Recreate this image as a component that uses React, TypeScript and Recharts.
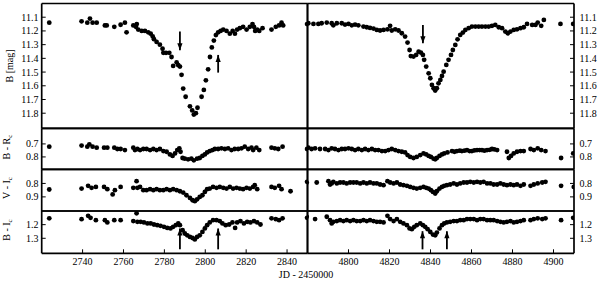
import React from "react";
import { ScatterChart, Scatter, XAxis, YAxis, ReferenceLine } from "recharts";

type Pt = [number, number];
type Arrow = [number, number, number]; // day, tail value, tip value

const leftDomain = [2720, 2850];
const rightDomain = [4780, 4910];
const leftTicks = [2740, 2760, 2780, 2800, 2820, 2840];
const rightTicks = [4800, 4820, 4840, 4860, 4880, 4900];

const bDomain = [11.0, 11.91];
const bTicks = [11.1, 11.2, 11.3, 11.4, 11.5, 11.6, 11.7, 11.8];
const brDomain = [0.58, 0.895];
const brTicks = [0.7, 0.8];
const viDomain = [0.695, 1.005];
const viTicks = [0.8, 0.9];
const biDomain = [1.1, 1.41];
const biTicks = [1.2, 1.3];

// B magnitude, first season
const leftB: Pt[] = [
  [2723.7, 11.14], [2739.5, 11.13], [2742.3, 11.14], [2743.6, 11.11], [2744.9, 11.14], [2746.9, 11.14],
  [2750.9, 11.16], [2751.8, 11.16], [2755.5, 11.17], [2758.6, 11.155], [2760.7, 11.14], [2761.5, 11.21],
  [2764.8, 11.16], [2766.1, 11.17], [2766.5, 11.15], [2767.2, 11.19], [2768.9, 11.2], [2770.5, 11.2],
  [2772.1, 11.21], [2773.3, 11.22], [2774.3, 11.24], [2774.9, 11.26], [2776.2, 11.28], [2777.8, 11.3],
  [2779.1, 11.33], [2779.5, 11.36], [2780.8, 11.36], [2782.4, 11.36], [2783.5, 11.39], [2784.3, 11.455],
  [2786.0, 11.43], [2786.8, 11.45], [2787.6, 11.46], [2788.4, 11.52], [2789.2, 11.62], [2790.4, 11.68],
  [2792.5, 11.75], [2793.6, 11.78], [2794.4, 11.81], [2795.4, 11.8], [2796.2, 11.76], [2798.2, 11.68],
  [2799.3, 11.63], [2800.3, 11.56], [2801.4, 11.48], [2802.3, 11.39], [2803.2, 11.32], [2804.2, 11.27],
  [2805.2, 11.23], [2806.3, 11.21], [2807.5, 11.2], [2808.8, 11.19], [2810.4, 11.2], [2812.0, 11.22],
  [2813.4, 11.2], [2814.5, 11.22], [2815.6, 11.19], [2816.9, 11.18], [2818.5, 11.17], [2820.2, 11.19],
  [2821.8, 11.17], [2823.1, 11.15], [2823.8, 11.17], [2824.4, 11.2], [2825.4, 11.19], [2826.4, 11.2],
  [2828.0, 11.18], [2832.4, 11.19], [2834.5, 11.17], [2836.1, 11.16], [2837.3, 11.14], [2838.1, 11.16],
  [2849.8, 11.15],
];

// B magnitude, second season
const rightB: Pt[] = [
  [4780.4, 11.144], [4782.9, 11.149], [4785.3, 11.149], [4786.9, 11.144], [4789.4, 11.139], [4791.8, 11.144],
  [4792.6, 11.159], [4794.3, 11.144], [4796.7, 11.144], [4798.3, 11.154], [4800.0, 11.149], [4801.6, 11.159],
  [4803.2, 11.154], [4804.8, 11.159], [4807.3, 11.168], [4808.9, 11.173], [4810.5, 11.178], [4812.2, 11.183],
  [4813.8, 11.193], [4815.4, 11.197], [4817.1, 11.193], [4819.0, 11.188], [4820.3, 11.163], [4821.1, 11.197],
  [4822.8, 11.188], [4824.4, 11.197], [4826.0, 11.217], [4827.6, 11.241], [4828.8, 11.285], [4829.8, 11.339],
  [4830.4, 11.383], [4831.7, 11.387], [4833.0, 11.375], [4834.2, 11.351], [4835.3, 11.358], [4836.3, 11.375],
  [4836.9, 11.411], [4837.9, 11.46], [4839.1, 11.509], [4839.9, 11.545], [4840.7, 11.594], [4841.5, 11.618],
  [4842.3, 11.635], [4843.1, 11.618], [4843.9, 11.582], [4844.8, 11.557], [4845.6, 11.528], [4846.4, 11.497],
  [4847.7, 11.448], [4848.8, 11.411], [4850.0, 11.375], [4850.9, 11.339], [4852.1, 11.302], [4853.2, 11.261],
  [4854.5, 11.229], [4855.8, 11.212], [4857.0, 11.193], [4858.6, 11.18], [4860.2, 11.168], [4861.9, 11.168],
  [4863.5, 11.168], [4865.1, 11.168], [4866.8, 11.168], [4868.4, 11.168], [4870.0, 11.163], [4871.6, 11.156],
  [4873.3, 11.173], [4874.9, 11.18], [4876.5, 11.205], [4877.7, 11.217], [4879.0, 11.205], [4880.6, 11.193],
  [4882.2, 11.188], [4883.9, 11.18], [4885.5, 11.173], [4887.1, 11.149], [4889.6, 11.156], [4891.2, 11.156],
  [4892.3, 11.139], [4894.0, 11.163], [4895.3, 11.12], [4903.4, 11.149], [4909.6, 11.149],
];

const leftBR: Pt[] = [
  [2723.7, 0.721], [2739.5, 0.713], [2742.3, 0.721], [2743.3, 0.703], [2744.9, 0.721], [2746.9, 0.729],
  [2750.5, 0.729], [2752.1, 0.729], [2755.5, 0.729], [2757.0, 0.739], [2758.6, 0.739], [2760.7, 0.747],
  [2764.8, 0.729], [2765.6, 0.747], [2766.8, 0.739], [2768.1, 0.747], [2769.7, 0.739], [2771.3, 0.739],
  [2773.0, 0.747], [2774.6, 0.739], [2776.2, 0.747], [2777.8, 0.739], [2779.5, 0.755], [2781.1, 0.76],
  [2782.7, 0.781], [2784.0, 0.792], [2785.2, 0.773], [2786.3, 0.747], [2787.3, 0.734], [2787.9, 0.76],
  [2788.9, 0.808], [2790.0, 0.813], [2791.6, 0.818], [2793.2, 0.813], [2794.4, 0.826], [2796.0, 0.813],
  [2797.3, 0.808], [2798.6, 0.792], [2799.8, 0.781], [2800.9, 0.765], [2802.2, 0.755], [2803.5, 0.747],
  [2804.7, 0.739], [2806.3, 0.739], [2807.9, 0.734], [2809.6, 0.739], [2811.2, 0.734], [2812.8, 0.747],
  [2814.4, 0.739], [2816.1, 0.739], [2817.7, 0.734], [2819.3, 0.721], [2821.0, 0.739], [2822.6, 0.729],
  [2823.4, 0.747], [2825.0, 0.729], [2826.4, 0.747], [2832.4, 0.729], [2834.0, 0.734], [2835.7, 0.739],
  [2837.8, 0.721], [2849.8, 0.739],
];

const rightBR: Pt[] = [
  [4780.4, 0.729], [4782.0, 0.739], [4783.7, 0.734], [4786.1, 0.739], [4788.6, 0.739], [4790.2, 0.747],
  [4791.8, 0.734], [4793.4, 0.739], [4795.1, 0.747], [4796.7, 0.739], [4798.3, 0.739], [4800.0, 0.734],
  [4801.6, 0.739], [4803.2, 0.747], [4804.8, 0.739], [4806.5, 0.747], [4808.1, 0.739], [4809.7, 0.747],
  [4811.4, 0.739], [4813.0, 0.747], [4814.6, 0.747], [4816.3, 0.755], [4817.9, 0.755], [4819.5, 0.747],
  [4821.1, 0.739], [4822.8, 0.747], [4824.4, 0.755], [4826.0, 0.76], [4827.6, 0.765], [4828.8, 0.786],
  [4830.1, 0.8], [4831.7, 0.808], [4833.3, 0.8], [4835.0, 0.786], [4836.6, 0.773], [4837.9, 0.781],
  [4839.1, 0.792], [4840.2, 0.8], [4841.5, 0.813], [4842.3, 0.818], [4843.1, 0.808], [4844.4, 0.792],
  [4845.6, 0.781], [4846.7, 0.773], [4848.3, 0.765], [4850.5, 0.755], [4851.7, 0.76], [4852.9, 0.755],
  [4854.3, 0.752], [4855.3, 0.755], [4856.6, 0.752], [4857.8, 0.747], [4859.1, 0.755], [4860.2, 0.755],
  [4861.4, 0.75], [4862.7, 0.747], [4864.0, 0.747], [4865.1, 0.747], [4866.3, 0.752], [4867.6, 0.747],
  [4868.9, 0.745], [4870.0, 0.739], [4871.2, 0.742], [4872.5, 0.747], [4877.3, 0.76], [4878.2, 0.808],
  [4879.3, 0.792], [4880.6, 0.773], [4882.2, 0.76], [4883.9, 0.755], [4885.5, 0.755], [4888.8, 0.739],
  [4890.4, 0.747], [4892.3, 0.734], [4894.0, 0.747], [4896.1, 0.755], [4903.7, 0.808], [4909.6, 0.773],
];

const leftVI: Pt[] = [
  [2723.7, 0.845], [2739.5, 0.838], [2742.7, 0.818], [2744.4, 0.833], [2746.5, 0.826], [2750.5, 0.826],
  [2752.1, 0.843], [2754.7, 0.882], [2755.8, 0.85], [2758.6, 0.826], [2764.8, 0.833], [2766.4, 0.783],
  [2766.8, 0.833], [2768.1, 0.826], [2769.7, 0.85], [2771.3, 0.85], [2773.0, 0.843], [2774.6, 0.85],
  [2776.2, 0.843], [2777.8, 0.85], [2779.5, 0.85], [2781.1, 0.843], [2782.7, 0.85], [2784.3, 0.843],
  [2786.0, 0.85], [2787.6, 0.858], [2789.2, 0.868], [2790.8, 0.888], [2792.5, 0.908], [2793.8, 0.925],
  [2794.9, 0.932], [2796.0, 0.918], [2797.3, 0.9], [2798.6, 0.888], [2799.8, 0.863], [2800.9, 0.843],
  [2802.2, 0.838], [2803.8, 0.826], [2805.5, 0.833], [2807.1, 0.826], [2808.8, 0.833], [2810.4, 0.838],
  [2812.0, 0.826], [2813.6, 0.838], [2815.3, 0.833], [2816.9, 0.838], [2818.5, 0.843], [2820.2, 0.833],
  [2821.8, 0.838], [2823.4, 0.826], [2824.2, 0.813], [2825.4, 0.843], [2832.4, 0.826], [2834.0, 0.833],
  [2836.1, 0.818], [2837.3, 0.843], [2841.7, 0.858], [2849.8, 0.788],
];

const rightVI: Pt[] = [
  [4779.6, 0.793], [4784.5, 0.793], [4790.2, 0.783], [4791.0, 0.808], [4791.8, 0.8], [4792.6, 0.788],
  [4794.3, 0.8], [4795.9, 0.793], [4797.5, 0.793], [4799.1, 0.8], [4800.8, 0.793], [4802.4, 0.793],
  [4804.0, 0.793], [4805.7, 0.8], [4807.3, 0.793], [4808.9, 0.8], [4810.5, 0.793], [4812.2, 0.8],
  [4813.8, 0.8], [4815.4, 0.808], [4817.1, 0.813], [4819.0, 0.783], [4820.3, 0.793], [4822.0, 0.8],
  [4823.6, 0.793], [4825.2, 0.808], [4826.8, 0.813], [4828.5, 0.818], [4830.1, 0.826], [4831.7, 0.833],
  [4833.3, 0.838], [4835.0, 0.833], [4836.6, 0.826], [4837.9, 0.833], [4839.1, 0.838], [4840.2, 0.85],
  [4841.2, 0.863], [4842.3, 0.875], [4843.1, 0.858], [4844.4, 0.838], [4845.6, 0.826], [4846.7, 0.818],
  [4848.0, 0.813], [4849.6, 0.808], [4851.3, 0.8], [4852.9, 0.808], [4854.5, 0.8], [4856.2, 0.793],
  [4857.8, 0.793], [4859.4, 0.788], [4861.1, 0.793], [4862.7, 0.788], [4864.3, 0.793], [4865.9, 0.788],
  [4867.6, 0.8], [4869.2, 0.8], [4870.8, 0.808], [4872.5, 0.808], [4874.1, 0.8], [4875.7, 0.808],
  [4877.3, 0.813], [4879.0, 0.808], [4880.6, 0.813], [4882.2, 0.808], [4883.9, 0.818], [4885.5, 0.808],
  [4888.8, 0.818], [4890.4, 0.808], [4892.3, 0.8], [4894.5, 0.793], [4896.1, 0.788], [4903.7, 0.818],
  [4909.9, 0.826],
];

const leftBI: Pt[] = [
  [2723.7, 1.154], [2739.5, 1.16], [2742.7, 1.135], [2743.9, 1.15], [2746.5, 1.167], [2750.9, 1.167],
  [2752.1, 1.184], [2755.5, 1.167], [2758.6, 1.167], [2764.8, 1.174], [2766.4, 1.117], [2766.8, 1.179],
  [2768.4, 1.179], [2770.0, 1.184], [2771.7, 1.191], [2773.3, 1.191], [2774.9, 1.199], [2776.5, 1.204],
  [2778.1, 1.209], [2779.8, 1.216], [2781.4, 1.224], [2783.0, 1.228], [2784.3, 1.216], [2785.6, 1.204],
  [2786.8, 1.191], [2787.6, 1.204], [2788.9, 1.241], [2790.0, 1.265], [2791.2, 1.278], [2792.5, 1.29],
  [2793.8, 1.298], [2794.9, 1.308], [2796.0, 1.29], [2797.3, 1.278], [2798.6, 1.253], [2799.8, 1.228],
  [2800.9, 1.204], [2802.2, 1.184], [2803.8, 1.167], [2805.5, 1.167], [2807.1, 1.174], [2808.4, 1.191],
  [2810.0, 1.204], [2811.7, 1.199], [2813.3, 1.184], [2814.6, 1.224], [2815.6, 1.184], [2817.2, 1.174],
  [2818.9, 1.191], [2820.5, 1.179], [2822.1, 1.184], [2823.8, 1.174], [2825.4, 1.184], [2827.0, 1.199],
  [2832.4, 1.154], [2834.5, 1.16], [2836.1, 1.167], [2837.8, 1.154], [2849.8, 1.15],
];

const rightBI: Pt[] = [
  [4779.6, 1.142], [4783.7, 1.159], [4789.4, 1.142], [4791.0, 1.167], [4791.8, 1.191], [4792.6, 1.179],
  [4794.3, 1.174], [4795.9, 1.167], [4797.5, 1.174], [4799.1, 1.167], [4800.8, 1.174], [4802.4, 1.167],
  [4804.0, 1.174], [4805.7, 1.174], [4807.3, 1.167], [4808.9, 1.174], [4810.5, 1.167], [4812.2, 1.174],
  [4813.8, 1.179], [4815.4, 1.179], [4817.1, 1.184], [4819.0, 1.135], [4820.3, 1.159], [4822.0, 1.174],
  [4823.6, 1.159], [4825.2, 1.179], [4826.8, 1.191], [4828.5, 1.204], [4829.8, 1.228], [4830.9, 1.233],
  [4832.1, 1.216], [4833.3, 1.204], [4835.0, 1.191], [4836.3, 1.204], [4837.4, 1.216], [4838.6, 1.233],
  [4839.9, 1.253], [4841.2, 1.273], [4842.3, 1.278], [4843.1, 1.258], [4844.4, 1.228], [4845.6, 1.204],
  [4846.7, 1.191], [4848.0, 1.184], [4849.6, 1.179], [4851.3, 1.174], [4852.9, 1.174], [4854.5, 1.167],
  [4856.2, 1.167], [4857.8, 1.159], [4859.4, 1.159], [4861.1, 1.159], [4862.7, 1.167], [4864.3, 1.159],
  [4865.9, 1.159], [4867.6, 1.167], [4869.2, 1.167], [4870.8, 1.167], [4872.5, 1.174], [4874.1, 1.179],
  [4875.7, 1.184], [4877.3, 1.179], [4879.0, 1.174], [4880.6, 1.184], [4882.2, 1.179], [4883.9, 1.174],
  [4885.5, 1.167], [4888.8, 1.167], [4890.4, 1.159], [4892.3, 1.154], [4894.5, 1.159], [4896.1, 1.154],
  [4903.7, 1.167], [4909.6, 1.15],
];

const leftBArrows: Arrow[] = [[2787.6, 11.205, 11.34], [2806.3, 11.504, 11.375]];
const rightBArrows: Arrow[] = [[4836.3, 11.156, 11.29]];
const leftBIArrows: Arrow[] = [[2787.6, 1.381, 1.228], [2806.3, 1.381, 1.228]];
const rightBIArrows: Arrow[] = [[4836.1, 1.381, 1.248], [4848.0, 1.381, 1.248]];

const W = 600;
const H = 283;
const COLS: Record<string, [number, number]> = { left: [41.7, 307.5], right: [307.5, 574] };
const ROWS: [number, number][] = [[3.5, 128.3], [128.3, 169.3], [169.3, 211], [211, 253.3]];
const AX = 2; // thickness reserved for each axis strip
const FONT = "'Liberation Serif', 'Times New Roman', serif";
const tickFont = { fontSize: 10, fill: "#000", fontFamily: FONT };
const axisLine = { stroke: "#000", strokeWidth: 1.7 };
const tickLine = { stroke: "#000", strokeWidth: 1 };
const fmt = (v: number) => v.toFixed(1);

function Dot(props: any) {
  const { cx, cy } = props;
  if (cx == null || cy == null) return null;
  return <circle cx={cx} cy={cy} r={2.4} fill="#000" />;
}

function Head(props: any) {
  const { cx, cy, payload } = props;
  if (cx == null || cy == null) return null;
  const s = payload.dir === "down" ? -1 : 1;
  return (
    <polygon
      points={`${cx - 2.6},${cy + s * 7} ${cx + 2.6},${cy + s * 7} ${cx},${cy}`}
      fill="#000"
    />
  );
}

interface PanelProps {
  col: "left" | "right";
  row: number;
  points: Pt[];
  yDomain: number[];
  yTicks: number[];
  xLabels?: boolean;
  arrows?: Arrow[];
}

function Panel({ col, row, points, yDomain, yTicks, xLabels = false, arrows = [] }: PanelProps) {
  const [x0, x1] = COLS[col];
  const [y0, y1] = ROWS[row];
  const xDomain = col === "left" ? leftDomain : rightDomain;
  const xTicks = col === "left" ? leftTicks : rightTicks;
  const data = points.map(([x, y]) => ({ x, y }));
  const heads = arrows.map(([x, from, to]) => ({ x, y: to, dir: to > from ? "down" : "up" }));

  return (
    <div style={{ position: "absolute", left: 0, top: 0 }}>
      <ScatterChart
        width={W}
        height={H}
        margin={{ left: x0 - AX, right: W - x1 - AX, top: y0 - AX, bottom: H - y1 - AX }}
      >
        <XAxis
          xAxisId="b"
          type="number"
          dataKey="x"
          domain={xDomain}
          ticks={xTicks}
          interval={0}
          allowDataOverflow
          height={AX}
          axisLine={axisLine}
          tickLine={tickLine}
          tickSize={-4}
          tickMargin={9}
          tick={xLabels ? tickFont : false}
        />
        <XAxis
          xAxisId="t"
          orientation="top"
          type="number"
          dataKey="x"
          domain={xDomain}
          ticks={xTicks}
          interval={0}
          allowDataOverflow
          height={AX}
          axisLine={axisLine}
          tickLine={tickLine}
          tickSize={-4}
          tick={false}
        />
        <YAxis
          yAxisId="l"
          type="number"
          dataKey="y"
          domain={yDomain}
          ticks={yTicks}
          interval={0}
          reversed
          allowDataOverflow
          width={AX}
          axisLine={axisLine}
          tickLine={tickLine}
          tickSize={-4}
          tickMargin={7.2}
          tick={col === "left" ? tickFont : false}
          tickFormatter={fmt}
        />
        <YAxis
          yAxisId="r"
          orientation="right"
          type="number"
          dataKey="y"
          domain={yDomain}
          ticks={yTicks}
          interval={0}
          reversed
          allowDataOverflow
          width={AX}
          axisLine={axisLine}
          tickLine={tickLine}
          tickSize={-4}
          tickMargin={9.5}
          tick={col === "right" ? tickFont : false}
          tickFormatter={fmt}
        />
        <Scatter xAxisId="b" yAxisId="l" data={data} shape={Dot} isAnimationActive={false} />
        {arrows.map(([x, from, to], i) => (
          <ReferenceLine
            key={i}
            xAxisId="b"
            yAxisId="l"
            segment={[{ x, y: from }, { x, y: to }]}
            stroke="#000"
            strokeWidth={1.8}
            ifOverflow="visible"
          />
        ))}
        {heads.length > 0 && (
          <Scatter xAxisId="b" yAxisId="l" data={heads} shape={Head} isAnimationActive={false} />
        )}
      </ScatterChart>
    </div>
  );
}

export default function App() {
  return (
    <div style={{ position: "absolute", left: 0, top: 0, width: W, height: H, background: "#fff" }}>
      <Panel col="left" row={0} points={leftB} yDomain={bDomain} yTicks={bTicks} arrows={leftBArrows} />
      <Panel col="right" row={0} points={rightB} yDomain={bDomain} yTicks={bTicks} arrows={rightBArrows} />
      <Panel col="left" row={1} points={leftBR} yDomain={brDomain} yTicks={brTicks} />
      <Panel col="right" row={1} points={rightBR} yDomain={brDomain} yTicks={brTicks} />
      <Panel col="left" row={2} points={leftVI} yDomain={viDomain} yTicks={viTicks} />
      <Panel col="right" row={2} points={rightVI} yDomain={viDomain} yTicks={viTicks} />
      <Panel col="left" row={3} points={leftBI} yDomain={biDomain} yTicks={biTicks} xLabels arrows={leftBIArrows} />
      <Panel col="right" row={3} points={rightBI} yDomain={biDomain} yTicks={biTicks} xLabels arrows={rightBIArrows} />
      <svg
        width={W}
        height={H}
        style={{ position: "absolute", left: 0, top: 0 }}
        fontFamily={FONT}
        fontSize={10}
        fill="#000"
      >
        <text transform="translate(13.3,66) rotate(-90)" textAnchor="middle">B [mag]</text>
        <text transform="translate(9.5,147) rotate(-90)" textAnchor="middle">
          B - R<tspan fontSize={7} dy={2.5}>c</tspan>
        </text>
        <text transform="translate(9.5,188) rotate(-90)" textAnchor="middle">
          V - I<tspan fontSize={7} dy={2.5}>c</tspan>
        </text>
        <text transform="translate(9.5,230) rotate(-90)" textAnchor="middle">
          B - I<tspan fontSize={7} dy={2.5}>c</tspan>
        </text>
        <text x={306} y={278} textAnchor="middle">JD - 2450000</text>
      </svg>
    </div>
  );
}
